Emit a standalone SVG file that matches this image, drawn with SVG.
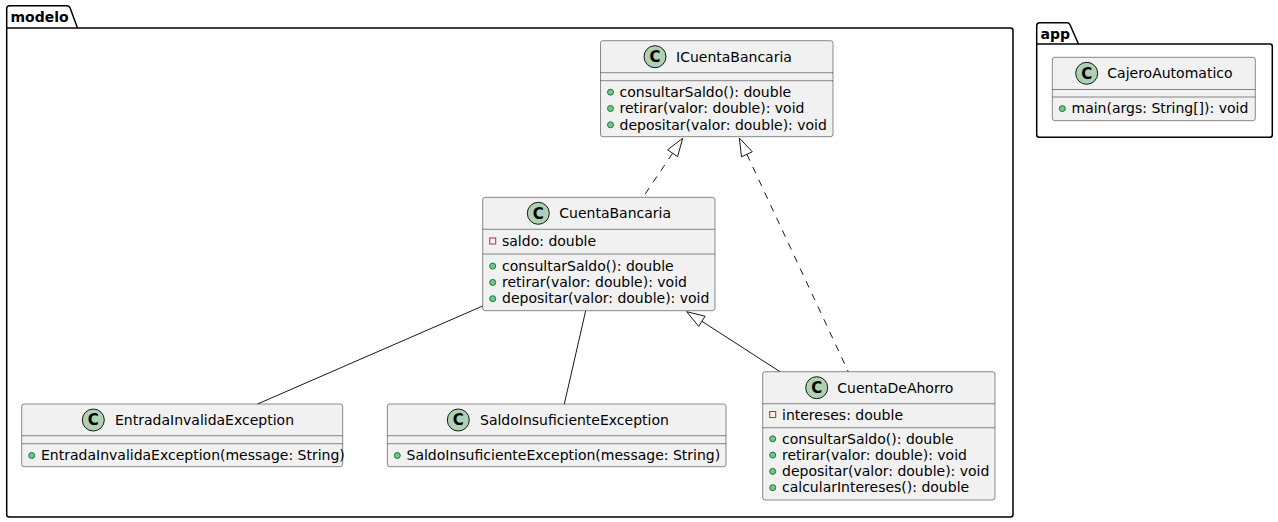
<svg xmlns="http://www.w3.org/2000/svg" width="1278" height="522" viewBox="0 0 1278 522">
<style>
.pkg{fill:none;stroke:#000000;stroke-width:1.5}
.pkgname{font-family:"DejaVu Sans",sans-serif;font-size:14px;font-weight:bold;fill:#000000}
.box{fill:#F1F1F1;stroke:#181818;stroke-width:0.5}
.div{stroke:#181818;stroke-width:0.5}
.spot{fill:#ADD1B2;stroke:#181818;stroke-width:1}
.spotc{font-family:"DejaVu Sans",sans-serif;font-size:15px;font-weight:bold;fill:#000000;text-anchor:middle}
.name{font-family:"DejaVu Sans",sans-serif;font-size:14px;fill:#000000}
.mem{font-family:"DejaVu Sans",sans-serif;font-size:14px;fill:#000000}
.pub{fill:#84BE84;stroke:#038048;stroke-width:1}
.priv{fill:none;stroke:#C82930;stroke-width:1}
.edge{fill:none;stroke:#181818;stroke-width:1}
.dash{stroke-dasharray:7,7}
.head{fill:none;stroke:#181818;stroke-width:1}
</style>

<g id="pkg-modelo">
<path class="pkg" d="M6.7,28 L6.7,8.7 A3,3 0 0 1 9.7,5.7 L67,5.7 A3,3 0 0 1 70,7.7 L77.5,28 L1010.5,28 A2.5,2.5 0 0 1 1013,30.5 L1013,514.5 A2.5,2.5 0 0 1 1010.5,517 L9.2,517 A2.5,2.5 0 0 1 6.7,514.5 Z"/>
<line class="pkg" x1="6.7" y1="28" x2="77.5" y2="28"/>
<text class="pkgname" x="10.5" y="21.5">modelo</text>
</g>

<g id="pkg-app">
<path class="pkg" d="M1036.7,44 L1036.7,25.7 A3,3 0 0 1 1039.7,22.7 L1067,22.7 A3,3 0 0 1 1070,24.7 L1078.5,44 L1269.8,44 A2.5,2.5 0 0 1 1272.3,46.5 L1272.3,134.8 A2.5,2.5 0 0 1 1269.8,137.3 L1039.2,137.3 A2.5,2.5 0 0 1 1036.7,134.8 Z"/>
<line class="pkg" x1="1036.7" y1="44" x2="1078.5" y2="44"/>
<text class="pkgname" x="1040.5" y="38.5">app</text>
</g>

<g id="connectors">
<line class="edge dash" x1="672.6" y1="153.2" x2="643" y2="197.3"/>
<polygon class="head" points="682.7,138.3 667.6,149.8 677.6,156.6"/>
<line class="edge dash" x1="746.9" y1="154.3" x2="848.3" y2="371.7"/>
<polygon class="head" points="739.3,138 741.5,156.8 752.3,151.8"/>
<line class="edge" x1="701.9" y1="321.3" x2="780" y2="371.7"/>
<polygon class="head" points="686.7,311.7 698.7,326.4 705.1,316.2"/>
<line class="edge" x1="482.7" y1="306" x2="257.5" y2="404"/>
<line class="edge" x1="585.7" y1="310.7" x2="564.3" y2="404"/>
</g>

<g id="ICuentaBancaria">
<rect class="box" x="600.5" y="40.7" width="232.5" height="96" rx="2.5" ry="2.5"/>
<circle class="spot" cx="655" cy="56.7" r="11"/>
<text class="spotc" x="655" y="62">C</text>
<text class="name" x="676" y="61.5">ICuentaBancaria</text>
<line class="div" x1="600.5" y1="72.7" x2="833" y2="72.7"/>
<line class="div" x1="600.5" y1="80.7" x2="833" y2="80.7"/>
<circle class="pub" cx="610.5" cy="92.2" r="3"/>
<text class="mem" x="619.5" y="97">consultarSaldo(): double</text>
<circle class="pub" cx="610.5" cy="108.5" r="3"/>
<text class="mem" x="619.5" y="113.3">retirar(valor: double): void</text>
<circle class="pub" cx="610.5" cy="124.8" r="3"/>
<text class="mem" x="619.5" y="129.6">depositar(valor: double): void</text>
</g>

<g id="CuentaBancaria">
<rect class="box" x="482.7" y="197.3" width="232.3" height="113.4" rx="2.5" ry="2.5"/>
<circle class="spot" cx="538.3" cy="213.3" r="11"/>
<text class="spotc" x="538.3" y="218.6">C</text>
<text class="name" x="559.3" y="218.1">CuentaBancaria</text>
<line class="div" x1="482.7" y1="229.3" x2="715" y2="229.3"/>
<rect class="priv" x="489.7" y="238" width="6" height="6"/>
<text class="mem" x="502" y="246">saldo: double</text>
<line class="div" x1="482.7" y1="254" x2="715" y2="254"/>
<circle class="pub" cx="492.7" cy="266.1" r="3"/>
<text class="mem" x="502" y="270.8">consultarSaldo(): double</text>
<circle class="pub" cx="492.7" cy="282.4" r="3"/>
<text class="mem" x="502" y="287.1">retirar(valor: double): void</text>
<circle class="pub" cx="492.7" cy="298.7" r="3"/>
<text class="mem" x="502" y="303.4">depositar(valor: double): void</text>
</g>

<g id="EntradaInvalidaException">
<rect class="box" x="21.7" y="404" width="321" height="62.7" rx="2.5" ry="2.5"/>
<circle class="spot" cx="93.3" cy="420" r="11"/>
<text class="spotc" x="93.3" y="425.3">C</text>
<text class="name" x="115" y="424.8">EntradaInvalidaException</text>
<line class="div" x1="21.7" y1="435.7" x2="342.7" y2="435.7"/>
<line class="div" x1="21.7" y1="443.7" x2="342.7" y2="443.7"/>
<circle class="pub" cx="31.7" cy="455.5" r="3"/>
<text class="mem" x="41" y="460.2">EntradaInvalidaException(message: String)</text>
</g>

<g id="SaldoInsuficienteException">
<rect class="box" x="387.3" y="404" width="338.7" height="62.7" rx="2.5" ry="2.5"/>
<circle class="spot" cx="458.3" cy="420" r="11"/>
<text class="spotc" x="458.3" y="425.3">C</text>
<text class="name" x="480" y="424.8">SaldoInsuficienteException</text>
<line class="div" x1="387.3" y1="435.7" x2="726" y2="435.7"/>
<line class="div" x1="387.3" y1="443.7" x2="726" y2="443.7"/>
<circle class="pub" cx="397.3" cy="455.5" r="3"/>
<text class="mem" x="406.5" y="460.2">SaldoInsuficienteException(message: String)</text>
</g>

<g id="CuentaDeAhorro">
<rect class="box" x="762.7" y="371.7" width="232.3" height="128.3" rx="2.5" ry="2.5"/>
<circle class="spot" cx="816.7" cy="387.7" r="11"/>
<text class="spotc" x="816.7" y="393">C</text>
<text class="name" x="837.3" y="392.5">CuentaDeAhorro</text>
<line class="div" x1="762.7" y1="403.7" x2="995" y2="403.7"/>
<rect class="priv" x="769.7" y="411.5" width="6" height="6"/>
<text class="mem" x="782" y="419.5">intereses: double</text>
<line class="div" x1="762.7" y1="427.7" x2="995" y2="427.7"/>
<circle class="pub" cx="772.7" cy="438.8" r="3"/>
<text class="mem" x="782" y="443.5">consultarSaldo(): double</text>
<circle class="pub" cx="772.7" cy="455.1" r="3"/>
<text class="mem" x="782" y="459.8">retirar(valor: double): void</text>
<circle class="pub" cx="772.7" cy="471.4" r="3"/>
<text class="mem" x="782" y="476.1">depositar(valor: double): void</text>
<circle class="pub" cx="772.7" cy="487.7" r="3"/>
<text class="mem" x="782" y="492.4">calcularIntereses(): double</text>
</g>

<g id="CajeroAutomatico">
<rect class="box" x="1052.3" y="57.3" width="203" height="63.4" rx="2.5" ry="2.5"/>
<circle class="spot" cx="1086.7" cy="73.3" r="11"/>
<text class="spotc" x="1086.7" y="78.6">C</text>
<text class="name" x="1107.3" y="78.1">CajeroAutomatico</text>
<line class="div" x1="1052.3" y1="89.5" x2="1255.3" y2="89.5"/>
<line class="div" x1="1052.3" y1="97" x2="1255.3" y2="97"/>
<circle class="pub" cx="1062.3" cy="108.6" r="3"/>
<text class="mem" x="1071.5" y="113.3">main(args: String[]): void</text>
</g>
</svg>
